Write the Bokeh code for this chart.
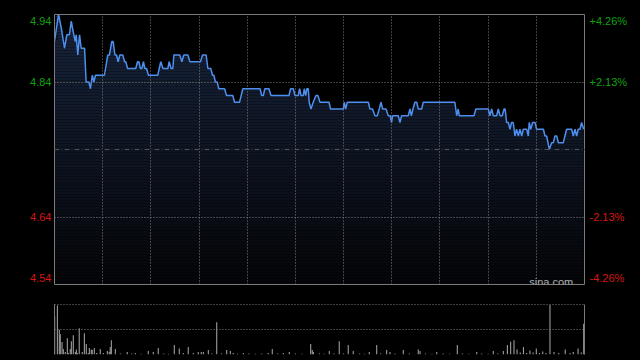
from bokeh.plotting import figure
from bokeh.models import (Range1d, LinearAxis, FixedTicker, Span, Label, Grid,
                          CustomJSTickFormatter)
from bokeh.layouts import column
from bokeh.embed import file_html
from bokeh.resources import INLINE

# ---------------- data ----------------
# intraday minutes from open (HK session 09:30-12:00, 13:00-16:00 = 330 min)
minutes = [0, 2.5, 4.2, 6.2, 7.7, 9.3, 10.4, 12.0, 12.9, 13.5, 14.5, 15.6, 16.6, 18.7,
           19.7, 21.4, 22.4, 23.5, 24.5, 25.5, 31.1, 33.2, 34.2, 35.7, 36.5, 37.6,
           38.6, 39.6, 40.7, 42.5, 43.6, 44.4, 45.5, 50.6, 51.7, 52.5, 53.5, 54.4,
           55.4, 56.2, 57.3, 58.5, 64.3, 66.2, 67.5, 70.6, 71.4, 72.6, 73.7, 74.3,
           78.0, 79.3, 80.5, 83.0, 84.3, 90.9, 92.2, 94.4, 95.5, 97.3, 98.4, 99.2,
           100.2, 101.3, 102.3, 105.9, 107.1, 111.0, 112.1, 115.2, 117.3, 128.0,
           129.0, 130.0, 131.0, 133.5, 134.8, 146.0, 147.0, 148.7, 149.7, 151.8,
           152.6, 153.5, 154.9, 155.5, 156.4, 157.2, 158.0, 158.6, 159.7, 161.1,
           162.8, 164.0, 165.3, 170.9, 171.9, 179.8, 180.4, 181.3, 182.3, 195.4,
           196.4, 198.0, 199.5, 201.0, 202.2, 203.3, 204.3, 206.4, 207.8, 209.0,
           209.9, 210.5, 214.0, 215.1, 216.1, 220.3, 221.3, 222.2, 223.2, 224.4,
           225.5, 226.5, 228.6, 229.6, 249.3, 250.4, 251.4, 252.0, 261.2, 262.4,
           270.1, 271.1, 272.2, 273.2, 275.3, 276.3, 277.4, 278.8, 279.9, 280.6,
           281.5, 282.6, 283.6, 284.6, 285.6, 286.7, 287.7, 288.8, 289.8, 290.9,
           291.9, 294.0, 295.0, 295.6, 296.5, 297.7, 299.2, 300.2, 304.4, 305.4,
           306.4, 308.1, 309.5, 310.6, 311.6, 312.7, 313.7, 316.8, 318.9, 322.0,
           323.0, 324.1, 325.1, 326.1, 327.2, 328.2, 329.5]
prices = [4.90, 4.94, 4.92, 4.89, 4.91, 4.91, 4.93, 4.91, 4.90, 4.91, 4.88, 4.91, 4.89, 4.89,
          4.84, 4.84, 4.83, 4.85, 4.84, 4.85, 4.85, 4.88, 4.88, 4.90, 4.90, 4.88,
          4.88, 4.87, 4.88, 4.88, 4.87, 4.87, 4.86, 4.86, 4.87, 4.87, 4.86, 4.86,
          4.87, 4.86, 4.86, 4.85, 4.85, 4.87, 4.86, 4.86, 4.87, 4.86, 4.86, 4.88,
          4.88, 4.87, 4.88, 4.88, 4.87, 4.87, 4.88, 4.88, 4.86, 4.86, 4.85, 4.85,
          4.84, 4.84, 4.83, 4.83, 4.82, 4.82, 4.81, 4.81, 4.83, 4.83,
          4.82, 4.82, 4.83, 4.83, 4.82, 4.82, 4.83, 4.83, 4.82, 4.82,
          4.83, 4.82, 4.82, 4.83, 4.82, 4.83, 4.83, 4.81, 4.80, 4.81,
          4.82, 4.82, 4.81, 4.81, 4.80, 4.80, 4.81, 4.80, 4.81, 4.81,
          4.80, 4.80, 4.79, 4.79, 4.80, 4.81, 4.80, 4.80, 4.79, 4.79,
          4.78, 4.79, 4.79, 4.78, 4.79, 4.79, 4.80, 4.79, 4.80, 4.81,
          4.81, 4.80, 4.80, 4.81, 4.81, 4.79, 4.80, 4.79, 4.79, 4.80,
          4.80, 4.79, 4.80, 4.79, 4.79, 4.80, 4.79, 4.79, 4.80, 4.80,
          4.78, 4.78, 4.77, 4.78, 4.78, 4.76, 4.77, 4.76, 4.77, 4.76,
          4.77, 4.77, 4.76, 4.78, 4.77, 4.78, 4.78, 4.77, 4.77, 4.76,
          4.76, 4.74, 4.75, 4.75, 4.76, 4.76, 4.75, 4.75, 4.77, 4.77,
          4.76, 4.77, 4.76, 4.77, 4.77, 4.78, 4.77]

prev_close = 4.74
price_high, price_low = 4.94, 4.54
up_ticks = [4.94, 4.84]
up_labels = ["4.94", "4.84"]
up_pct_labels = ["+4.26%", "+2.13%"]
dn_ticks = [4.64, 4.54]
dn_labels = ["4.64", "4.54"]
dn_pct_labels = ["-2.13%", "-4.26%"]
grid_minutes = [30, 60, 90, 120, 150, 180, 210, 240, 270, 300]
session_minutes = 330

# volume (thousand shares)
vol_minutes = [0.1, 1.8, 3.0, 3.6, 4.7, 5.5, 6.7, 8.0, 8.6, 9.8, 10.5, 11.7, 13.0, 13.6,
               14.2, 15.4, 17.3, 18.6, 19.8, 21.0, 21.7, 22.9, 23.5, 24.8, 26.3, 28.5,
               30.4, 32.9, 34.1, 34.7, 35.4, 37.9, 41, 45.3, 48, 50.3, 54, 58.4, 61.5,
               64.6, 68, 71, 74.6, 77.7, 80.2, 83.3, 86.4, 89.5, 91.4, 92.7, 95.8, 98,
               101, 104, 107.2, 109.5, 111.3, 114, 117.6, 121, 125, 129, 133.1, 135.6,
               139, 142.5, 146.2, 150, 154, 159.5, 160.5, 161.2, 165, 168, 171.1, 174,
               177.3, 180, 182.9, 186, 190, 193, 196, 200.6, 203, 206.8, 208.9, 212,
               217.2, 221, 226.5, 227.6, 231, 235, 238, 242, 246, 250.8, 254, 258,
               262.9, 266, 270, 273.2, 276, 279.5, 282, 284, 286.1, 288, 290, 292, 294,
               296, 298, 300, 302, 304, 306, 308.5, 311, 314, 318, 321, 323, 326, 328,
               329.5]
vol_values = [231, 297, 150, 123, 75, 33, 15, 99, 9, 33, 81, 117, 15, 30,
              9, 159, 15, 129, 63, 9, 39, 30, 27, 39, 9, 33,
              9, 21, 15, 45, 87, 33, 6, 15, 6, 9, 5, 21, 15,
              39, 6, 5, 57, 36, 9, 45, 9, 15, 15, 15, 27, 6,
              195, 6, 27, 21, 9, 5, 9, 6, 5, 6, 9, 33,
              6, 9, 15, 6, 5, 63, 27, 15, 6, 5, 21, 6,
              81, 6, 57, 21, 6, 5, 15, 57, 6, 27, 15, 6,
              27, 6, 30, 21, 6, 5, 15, 6, 5, 57, 6, 5,
              15, 6, 5, 21, 6, 21, 57, 78, 87, 30, 12, 45, 9,
              24, 12, 36, 9, 18, 9, 300, 15, 9, 30, 9, 15, 36, 12,
              186]
vol_max = 300

# ---------------- style ----------------
FONT = "Liberation Sans"
GREEN = "#10a010"
RED = "#d81414"
FRAME = "#7a7a7a"
GRID = "#808080"
LINE = "#4d8fee"
FILL_TOP = (24, 36, 60)     # fill colour at the top of the price panel
FILL_BOTTOM = (4, 5, 8)     # fill colour at the bottom of the price panel
W = 640
BL, BR = 54, 56
EDGE = 0.009  # keep edge labels inside the frame
N_BANDS = 90


def fmt(positions, labels):
    return CustomJSTickFormatter(args=dict(pos=positions, labs=labels), code="""
        let best = 0, bd = 1e9;
        for (let i = 0; i < pos.length; i++) {
            const d = Math.abs(pos[i] - tick);
            if (d < bd) { bd = d; best = i; }
        }
        return labs[best];
    """)


def band_color(t):
    r = round(FILL_TOP[0] + (FILL_BOTTOM[0] - FILL_TOP[0]) * t)
    g = round(FILL_TOP[1] + (FILL_BOTTOM[1] - FILL_TOP[1]) * t)
    b = round(FILL_TOP[2] + (FILL_BOTTOM[2] - FILL_TOP[2]) * t)
    return "#%02x%02x%02x" % (r, g, b)


def price_fig(y0, y1, ticks, labels, pct_labels, color, h, mt, mb, hgrid, edge_side):
    p = figure(width=W, height=h, x_range=Range1d(0, session_minutes), y_range=Range1d(y0, y1),
               output_backend="svg", toolbar_location=None,
               x_axis_location=None, y_axis_location=None,
               background_fill_color="black", border_fill_color="black",
               outline_line_color=None, min_border_left=BL, min_border_right=BR,
               min_border_top=mt, min_border_bottom=mb)
    p.center = [r for r in p.center if not isinstance(r, Grid)]
    # fill under the price line as a vertical fade: one solid band per slice
    step = (price_high - price_low) / N_BANDS
    for i in range(N_BANDS):
        top = price_high - i * step
        bot = top - step
        if top <= y0 or bot >= y1:
            continue
        upper = [max(bot, min(v, top)) for v in prices]
        p.varea(x=minutes, y1=bot, y2=upper,
                fill_color=band_color((i + 0.5) / N_BANDS))
    p.line(minutes, prices, line_color=LINE, line_width=1.5)

    pos = [t - EDGE if t == price_high else (t + EDGE if t == price_low else t) for t in ticks]
    ly = LinearAxis(ticker=FixedTicker(ticks=pos), formatter=fmt(pos, labels),
                    axis_line_color=FRAME, major_tick_line_color=None, minor_tick_line_color=None,
                    major_tick_out=0, major_tick_in=0,
                    major_label_text_color=color, major_label_text_font=FONT,
                    major_label_text_font_size="11px", major_label_standoff=3)
    ry = LinearAxis(ticker=FixedTicker(ticks=pos), formatter=fmt(pos, pct_labels),
                    axis_line_color=FRAME, major_tick_line_color=None, minor_tick_line_color=None,
                    major_tick_out=0, major_tick_in=0,
                    major_label_text_color=color, major_label_text_font=FONT,
                    major_label_text_font_size="11px", major_label_standoff=5)
    p.add_layout(ly, "left")
    p.add_layout(ry, "right")
    ex = LinearAxis(ticker=FixedTicker(ticks=[]), axis_line_color=FRAME,
                    major_tick_line_color=None, minor_tick_line_color=None,
                    major_tick_out=0, major_tick_in=0, major_label_text_font_size="0px")
    p.add_layout(ex, edge_side)

    p.add_layout(Grid(dimension=0, ticker=FixedTicker(ticks=grid_minutes),
                      grid_line_color=GRID, grid_line_dash="1 2", level="overlay"))
    p.add_layout(Grid(dimension=1, ticker=FixedTicker(ticks=hgrid),
                      grid_line_color=GRID, grid_line_dash="1 2", level="overlay"))
    return p


# page has no margin: frame spans x 54..584, y 14..284
p_top = price_fig(prev_close, price_high, up_ticks, up_labels, up_pct_labels, GREEN,
                  149, 14, 0, [4.84], "above")
p_bot = price_fig(price_low, prev_close, dn_ticks, dn_labels, dn_pct_labels, RED,
                  140, 0, 5, [4.64], "below")
p_bot.add_layout(Span(location=prev_close, dimension="width", line_color="#a0a0a0",
                      line_width=1, line_dash="5 2 1 2"))
p_bot.add_layout(Label(x=323, y=4.5435, text="sina.com", text_align="right",
                       text_baseline="alphabetic", text_color="#b0b0b0",
                       text_font=FONT, text_font_size="11px"))

# ---------------- volume ----------------
pv = figure(width=W, height=71, x_range=Range1d(0, session_minutes),
            y_range=Range1d(0, vol_max * 1.01),
            output_backend="svg", toolbar_location=None,
            x_axis_location=None, y_axis_location=None,
            background_fill_color="black", border_fill_color="black",
            outline_line_color=None, min_border_left=BL, min_border_right=BR,
            min_border_top=15, min_border_bottom=6)
pv.center = [r for r in pv.center if not isinstance(r, Grid)]
pv.vbar(x=vol_minutes, top=vol_values, width=0.7, bottom=0,
        fill_color="#999999", line_color=None)
for side in ("left", "right"):
    ax = LinearAxis(ticker=FixedTicker(ticks=[]), axis_line_color=FRAME,
                    major_tick_line_color=None, minor_tick_line_color=None,
                    major_tick_out=0, major_tick_in=0, major_label_text_font_size="0px")
    pv.add_layout(ax, side)
pv.add_layout(Grid(dimension=1, ticker=FixedTicker(ticks=[vol_max / 2, vol_max]),
                   grid_line_color=GRID, grid_line_dash="1 2", level="overlay"))

layout = column(p_top, p_bot, pv, spacing=0)
html = file_html(layout, INLINE)
html = html.replace("<head>", "<head><style>html,body{background:#000;}</style>", 1)
open("out.html", "w").write(html)
